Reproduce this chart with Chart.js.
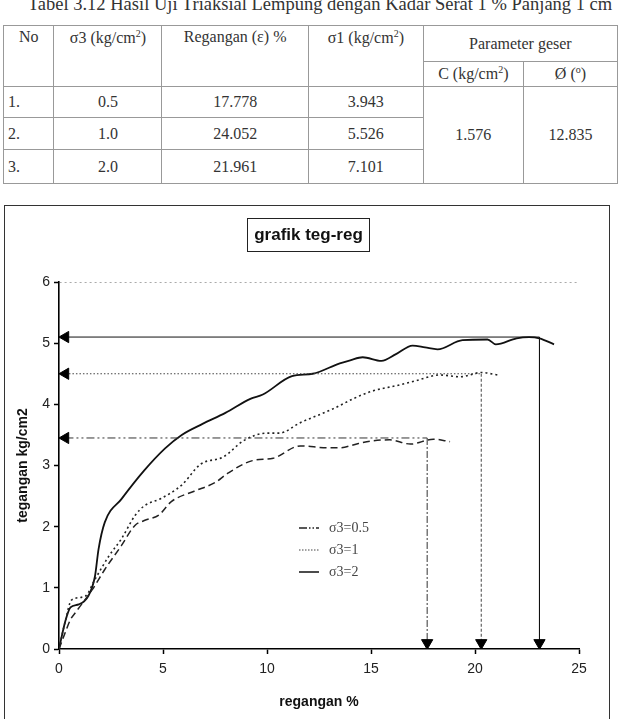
<!DOCTYPE html>
<html>
<head>
<meta charset="utf-8">
<script src="https://cdn.jsdelivr.net/npm/chart.js@4.4.1/dist/chart.umd.min.js"></script>
<style>
  html, body { margin: 0; padding: 0; background: #fff; }
  body { width: 618px; height: 719px; position: relative; overflow: hidden; }
  .caption { position: absolute; left: 0; top: -6px; width: 640px; text-align: center;
    font: 18.5px "Liberation Serif", "Times New Roman", serif; color: #333; white-space: nowrap; }
  table { position: absolute; left: 3px; top: 25px; border-collapse: collapse;
    font: 16px "Liberation Serif", "Times New Roman", serif; color: #333; table-layout: fixed; }
  td { border: 1px solid #999; padding: 0; text-align: center; vertical-align: middle; }
  td.hd { vertical-align: top; padding-top: 2px; }
  td.no { text-align: left; padding-left: 4px; }
  .chartBox { position: absolute; left: 0; top: 190px; width: 618px; height: 529px; }
  .frame { position: absolute; left: 4px; top: 205px; width: 604px; height: 530px; border: 1.5px solid #333; }
  .title { position: absolute; left: 247px; top: 218px; width: 121px; height: 32px; border: 1.5px solid #222;
    font: bold 17px "Liberation Sans", Arial, sans-serif; color: #111; text-align: center; line-height: 32px; }
  .legend { position: absolute; left: 299px; top: 517px; font: 14px "Liberation Serif", "Times New Roman", serif; color: #444; }
  .legend div { height: 22px; display: flex; align-items: center; }
  .legend svg { margin-right: 10px; }
</style>
</head>
<body>
<div class="caption">Tabel 3.12 Hasil Uji Triaksial Lempung dengan Kadar Serat 1 % Panjang 1 cm</div>
<table>
  <colgroup><col style="width:51px"><col style="width:109px"><col style="width:148px"><col style="width:116px"><col style="width:101px"><col style="width:95px"></colgroup>
  <tr style="height:36px">
    <td class="hd" rowspan="2">No</td>
    <td class="hd" rowspan="2">σ3 (kg/cm<sup style="font-size:10px">2</sup>)</td>
    <td class="hd" rowspan="2">Regangan (ε) %</td>
    <td class="hd" rowspan="2">σ1 (kg/cm<sup style="font-size:10px">2</sup>)</td>
    <td colspan="2">Parameter geser</td>
  </tr>
  <tr style="height:25px">
    <td>C (kg/cm<sup style="font-size:10px">2</sup>)</td>
    <td>Ø (<sup style="font-size:10px">o</sup>)</td>
  </tr>
  <tr style="height:31px"><td class="no">1.</td><td>0.5</td><td>17.778</td><td>3.943</td><td rowspan="3">1.576</td><td rowspan="3">12.835</td></tr>
  <tr style="height:32px"><td class="no">2.</td><td>1.0</td><td>24.052</td><td>5.526</td></tr>
  <tr style="height:34px"><td class="no">3.</td><td>2.0</td><td>21.961</td><td>7.101</td></tr>
</table>

<div class="frame"></div>
<div class="chartBox"><canvas id="tegReg"></canvas></div>
<div class="title">grafik teg-reg</div>
<div class="legend">
  <div><svg width="20" height="4"><line x1="0" y1="2" x2="20" y2="2" stroke="#222" stroke-width="1.3" stroke-dasharray="8 2 1.5 2 1.5 2"/></svg>σ3=0.5</div>
  <div><svg width="20" height="4"><line x1="0" y1="2" x2="20" y2="2" stroke="#444" stroke-width="1.2" stroke-dasharray="1.5 1.5"/></svg>σ3=1</div>
  <div><svg width="20" height="4"><line x1="0" y1="2" x2="20" y2="2" stroke="#111" stroke-width="1.5"/></svg>σ3=2</div>
</div>

<script>
// regangan (%) and tegangan (kg/cm2)
const strain05 = [0, 0.3, 0.55, 0.8, 1.6, 2.2, 3.0, 3.65, 4.1, 4.8, 5.4, 6.5, 7.5, 8.1, 9.3, 10.3, 11.6, 12.9, 13.5, 14.4, 15.0, 15.9, 16.9, 18.0, 18.8];
const stress05 = [0, 0.27, 0.48, 0.6, 0.97, 1.3, 1.69, 2.02, 2.1, 2.19, 2.41, 2.58, 2.72, 2.87, 3.08, 3.12, 3.32, 3.29, 3.29, 3.36, 3.4, 3.42, 3.35, 3.43, 3.39];

const strain1 = [0, 0.3, 0.6, 1.25, 1.73, 2.4, 3.0, 3.65, 4.1, 4.9, 5.9, 6.8, 7.9, 8.9, 10.0, 10.6, 11.6, 13.2, 14.2, 15.0, 16.4, 17.2, 18.3, 19.3, 20.3, 21.1];
const stress1 = [0, 0.45, 0.8, 0.86, 1.14, 1.52, 1.8, 2.18, 2.34, 2.46, 2.68, 3.02, 3.14, 3.41, 3.53, 3.53, 3.7, 3.93, 4.1, 4.21, 4.32, 4.39, 4.48, 4.45, 4.52, 4.48];

const strain2 = [0, 0.3, 0.55, 0.95, 1.4, 1.73, 1.9, 2.2, 3.0, 4.1, 5.1, 5.9, 6.9, 8.0, 9.2, 9.8, 11.2, 12.2, 13.5, 14.0, 14.6, 15.5, 16.2, 17.0, 17.6, 18.2, 19.4, 20.6, 21.0, 22.0, 22.6, 23.1, 23.8];
const stress2 = [0, 0.45, 0.68, 0.73, 0.86, 1.19, 1.63, 2.07, 2.45, 2.92, 3.28, 3.5, 3.68, 3.86, 4.09, 4.16, 4.46, 4.5, 4.67, 4.72, 4.77, 4.71, 4.82, 4.96, 4.93, 4.9, 5.05, 5.06, 4.98, 5.08, 5.1, 5.08, 4.98];

// peak (failure) points marked with arrows to the axes
const peakStrain = [17.7, 20.3, 23.1];
const peakStress = [3.45, 4.5, 5.1];

const xTicks = [0, 5, 10, 15, 20, 25];
const yTicks = [0, 1, 2, 3, 4, 5, 6];

const toPoints = (xs, ys) => xs.map((x, i) => ({ x: x, y: ys[i] }));

// arrow head sits a little off the axis so its tip touches it
const headX = 0.31;
const headY = 0.1;
const guideStyles = [
    { h: [8, 3, 2, 3, 2, 3], v: [7, 2, 2, 2], color: '#333' },
    { h: [1.5, 2], v: [3, 2], color: '#444' },
    { h: [], v: [], color: '#111' }
];

const guides = [];
peakStrain.forEach((px, i) => {
    const st = guideStyles[i];
    guides.push({
        data: [{ x: headX, y: peakStress[i] }, { x: px, y: peakStress[i] }],
        borderColor: st.color, borderWidth: 1, borderDash: st.h,
        pointStyle: 'triangle', rotation: -90, pointRadius: [6.5, 0],
        pointBackgroundColor: '#000', pointBorderColor: '#000', pointBorderWidth: 1
    });
    guides.push({
        data: [{ x: px, y: peakStress[i] }, { x: px, y: headY }],
        borderColor: st.color, borderWidth: 1, borderDash: st.v,
        pointStyle: 'triangle', rotation: 180, pointRadius: [0, 6.5],
        pointBackgroundColor: '#000', pointBorderColor: '#000', pointBorderWidth: 1
    });
});

const curves = [
    { label: 'σ3=0.5', data: toPoints(strain05, stress05), borderColor: '#222', borderWidth: 1.5, borderDash: [7, 4] },
    { label: 'σ3=1', data: toPoints(strain1, stress1), borderColor: '#222', borderWidth: 1.6, borderDash: [2, 3] },
    { label: 'σ3=2', data: toPoints(strain2, stress2), borderColor: '#111', borderWidth: 1.8 }
];
curves.forEach(c => { c.pointRadius = 0; c.cubicInterpolationMode = 'monotone'; });

const tickFont = { family: 'Liberation Sans, Arial, sans-serif', size: 14 };
const titleFont = { family: 'Liberation Sans, Arial, sans-serif', size: 14, weight: 'bold' };

new Chart(document.getElementById('tegReg'), {
    type: 'scatter',
    data: { datasets: guides.concat(curves).map(d => Object.assign({ showLine: true, fill: false }, d)) },
    options: {
        responsive: true,
        maintainAspectRatio: false,
        animation: false,
        layout: { padding: { left: 15, top: 92, right: 39, bottom: 8 } },
        plugins: { legend: { display: false }, tooltip: { enabled: false } },
        scales: {
            x: {
                type: 'linear', min: 0, max: 25,
                afterFit: s => { s.height = 62; },
                afterBuildTicks: s => { s.ticks = xTicks.map(v => ({ value: v })); },
                ticks: { font: tickFont, color: '#222', padding: 7, maxRotation: 0 },
                grid: { color: 'transparent', tickColor: '#000', tickLength: 5, tickWidth: 1.5 },
                border: { color: '#000', width: 1.6 },
                title: { display: true, text: 'regangan %', font: titleFont, color: '#111', padding: 0 }
            },
            y: {
                type: 'linear', min: 0, max: 6,
                afterFit: s => { s.width = 44; },
                afterBuildTicks: s => { s.ticks = yTicks.map(v => ({ value: v })); },
                ticks: { font: tickFont, color: '#222', padding: 4 },
                grid: {
                    color: c => (c.tick && c.tick.value === 6 ? '#aaa' : 'transparent'),
                    tickColor: '#000', tickLength: 5, tickWidth: 1.5, tickBorderDash: []
                },
                border: { color: '#000', width: 1.6, dash: [2, 3] },
                title: { display: true, text: 'tegangan kg/cm2', font: titleFont, color: '#111', padding: 0 }
            }
        }
    }
});
</script>
</body>
</html>
